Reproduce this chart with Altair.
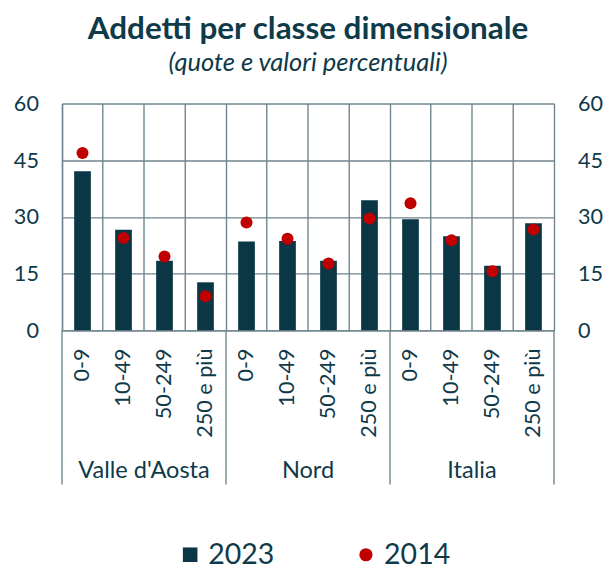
import altair as alt
import pandas as pd

regions = ["Valle d'Aosta", "Nord", "Italia"]
classes = ["0-9", "10-49", "50-249", "250 e più"]
v2023 = [42.1, 26.6, 18.4, 12.7, 23.5, 23.6, 18.4, 34.4, 29.4, 24.9, 17.1, 28.3]
v2014 = [46.9, 24.4, 19.5, 9.0, 28.5, 24.2, 17.7, 29.6, 33.6, 23.8, 15.6, 26.7]
y_ticks = [0, 15, 30, 45, 60]

TEAL = "#0a3646"
RED = "#c00000"
GRID = "#6f858d"
TXT = "#0f3a4a"
FONT = "Lato"

rows = []
i = 0
for r in regions:
    for c in classes:
        rows.append({"key": f"{r}|{c}", "region": r, "cls": c,
                     "v2023": v2023[i], "v2014": v2014[i],
                     "s2023": "2023", "s2014": "2014"})
        i += 1
df = pd.DataFrame(rows)
keys = list(df["key"])

W, H = 501, 231

xenc = alt.X("key:N", sort=keys, title=None,
             scale=alt.Scale(paddingInner=0, paddingOuter=0),
             axis=alt.Axis(labelExpr="split(datum.label, '|')[1]", labelAngle=270,
                           labelFontSize=22, labelFont=FONT, labelColor=TXT,
                           labelPadding=18, ticks=False, grid=True, bandPosition=0,
                           gridColor=GRID, gridWidth=1.4, domainColor=GRID,
                           domainWidth=1.4))

bars = alt.Chart(df).mark_bar(size=17).encode(
    x=xenc,
    y=alt.Y("v2023:Q", title=None,
            scale=alt.Scale(domain=[0, 60], nice=False),
            axis=alt.Axis(orient="left", values=y_ticks, ticks=False,
                          labelFontSize=22, labelFont=FONT, labelColor=TXT,
                          labelPadding=24, grid=True, gridColor=GRID, gridWidth=1.4,
                          domainColor=GRID, domainWidth=1.4)),
    color=alt.Color("s2023:N", scale=alt.Scale(domain=["2023"], range=[TEAL]),
                    legend=alt.Legend(title=None, orient="none", legendX=116, legendY=H + 214,
                                      labelFontSize=29, labelFont=FONT, labelColor=TXT,
                                      symbolType="square", symbolSize=220,
                                      symbolStrokeWidth=0, labelOffset=4)),
)

pts = alt.Chart(df).mark_circle(size=150, opacity=1).encode(
    x=alt.X("key:N", sort=keys),
    y=alt.Y("v2014:Q",
            axis=alt.Axis(orient="right", values=y_ticks, ticks=False, title=None,
                          labelFontSize=22, labelFont=FONT, labelColor=TXT,
                          labelPadding=24, grid=False,
                          domainColor=GRID, domainWidth=1.4)),
    fill=alt.Fill("s2014:N", scale=alt.Scale(domain=["2014"], range=[RED]),
                  legend=alt.Legend(title=None, orient="none", legendX=295, legendY=H + 214,
                                    labelFontSize=29, labelFont=FONT, labelColor=TXT,
                                    symbolType="circle", symbolSize=180,
                                    symbolStrokeWidth=0, labelOffset=4)),
)

starts = df[df["cls"] == classes[0]]
seps = alt.Chart(starts).mark_rule(color=GRID, strokeWidth=1.4).encode(
    x=alt.X("key:N", sort=keys, bandPosition=0),
    y=alt.value(H), y2=alt.value(H + 157),
)
ends = df[df["key"] == keys[-1]]
sep_end = alt.Chart(ends).mark_rule(color=GRID, strokeWidth=1.4).encode(
    x=alt.X("key:N", sort=keys, bandPosition=1),
    y=alt.value(H), y2=alt.value(H + 157),
)
mids = df[df["cls"] == classes[1]]
reg_labels = alt.Chart(mids).mark_text(fontSize=24, font=FONT, color=TXT,
                                       baseline="middle").encode(
    x=alt.X("key:N", sort=keys, bandPosition=1),
    y=alt.value(H + 143),
    text="region:N",
)

chart = alt.layer(bars, pts, seps, sep_end, reg_labels).resolve_scale(
    color="independent"
).resolve_axis(y="independent").properties(
    width=W, height=H,
    title=alt.TitleParams("Addetti per classe dimensionale",
                          subtitle="(quote e valori percentuali)",
                          fontSize=32, font=FONT, fontWeight="bold", color=TXT,
                          subtitleFontSize=26, subtitleFont=FONT,
                          subtitleFontStyle="italic", subtitleColor=TXT,
                          anchor="middle", offset=16, subtitlePadding=5),
    padding={"left": 5, "top": 0, "right": 5, "bottom": 5},
).configure_view(stroke=None)

chart.save("out.html", embed_options={"renderer": "svg", "actions": False})
